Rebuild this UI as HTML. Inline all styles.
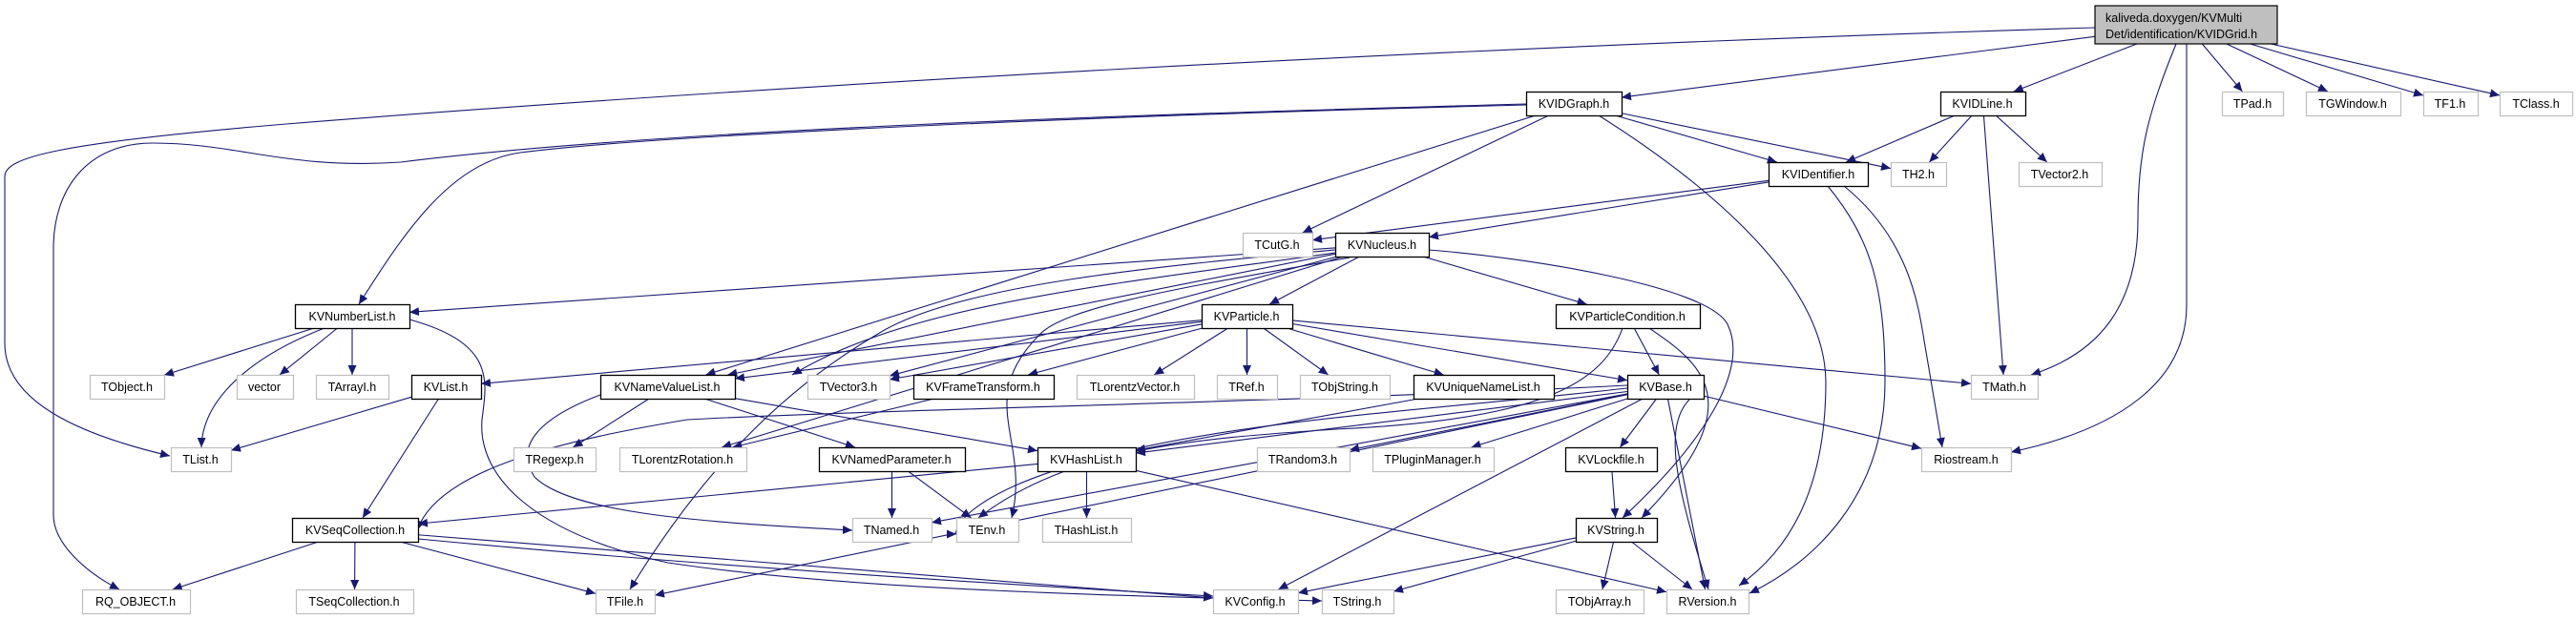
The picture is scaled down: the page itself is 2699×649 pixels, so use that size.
<!DOCTYPE html>
<html><head><meta charset="utf-8"><style>
html,body{margin:0;padding:0;background:#fff;}
svg{display:block;}
text{font-family:"Liberation Sans",sans-serif;font-size:12.5px;fill:#000;}
</style></head><body>
<svg id="g" width="2699" height="649" viewBox="0 0 2699 649" xmlns="http://www.w3.org/2000/svg">
<defs><marker id="a" markerUnits="userSpaceOnUse" markerWidth="11" markerHeight="9" refX="10" refY="4.5" orient="auto"><path d="M0,0 L10,4.5 L0,9 z" fill="#191970"/></marker></defs>
<g id="edges" fill="none" stroke="#191970" stroke-width="1.1"></g>
<g id="nodes">
<rect x="2195" y="6" width="191" height="40" fill="#bfbfbf" stroke="#000" stroke-width="1.2"/>
<text x="2206" y="23">kaliveda.doxygen/KVMulti</text><text x="2206" y="40">Det/identification/KVIDGrid.h</text>
</g>
</svg>
<script>
var N={
KVIDGraph:[1599,96,100,'KVIDGraph.h',1],KVIDLine:[2033,96,89,'KVIDLine.h',1],TPad:[2328,96,64,'TPad.h'],TGWindow:[2416,96,99,'TGWindow.h'],TF1:[2539,96,57,'TF1.h'],TClass:[2619,96,76,'TClass.h'],
KVIDentifier:[1853,170,104,'KVIDentifier.h',1],TH2:[1981,170,58,'TH2.h'],TVector2:[2115,170,87,'TVector2.h'],
TCutG:[1302,244,73,'TCutG.h'],KVNucleus:[1399,244,98,'KVNucleus.h',1],
KVNumberList:[309,319,120,'KVNumberList.h',1],KVParticle:[1259,319,95,'KVParticle.h',1],KVParticleCondition:[1630,319,151,'KVParticleCondition.h',1],
TObject:[94,393,78,'TObject.h'],vector:[248,393,59,'vector'],TArrayI:[331,393,76,'TArrayI.h'],KVList:[431,393,73,'KVList.h',1],KVNameValueList:[629,393,141,'KVNameValueList.h',1],TVector3:[846,393,86,'TVector3.h'],KVFrameTransform:[957,393,147,'KVFrameTransform.h',1],TLorentzVector:[1128,393,123,'TLorentzVector.h'],TRef:[1275,393,63,'TRef.h'],TObjString:[1362,393,94,'TObjString.h'],KVUniqueNameList:[1481,393,147,'KVUniqueNameList.h',1],KVBase:[1705,393,80,'KVBase.h',1],TMath:[2065,393,70,'TMath.h'],
TList:[179,469,63,'TList.h'],TRegexp:[538,469,86,'TRegexp.h'],TLorentzRotation:[649,469,133,'TLorentzRotation.h'],KVNamedParameter:[858,469,153,'KVNamedParameter.h',1],KVHashList:[1087,469,103,'KVHashList.h',1],TRandom3:[1317,469,97,'TRandom3.h'],TPluginManager:[1438,469,127,'TPluginManager.h'],KVLockfile:[1640,469,96,'KVLockfile.h',1],Riostream:[2013,469,94,'Riostream.h'],
KVSeqCollection:[306,543,132,'KVSeqCollection.h',1],TNamed:[893,543,83,'TNamed.h'],TEnv:[1002,543,65,'TEnv.h'],THashList:[1092,543,93,'THashList.h'],KVString:[1651,543,85,'KVString.h',1],
RQ_OBJECT:[86,618,113,'RQ_OBJECT.h'],TSeqCollection:[310,618,123,'TSeqCollection.h'],TFile:[624,618,62,'TFile.h'],KVConfig:[1271,618,89,'KVConfig.h'],TString:[1385,618,75,'TString.h'],TObjArray:[1630,618,92,'TObjArray.h'],RVersion:[1746,618,86,'RVersion.h']
};
N.main=[2195,6,191,'',1,40];
var E=[
['main','KVIDGraph'],['main','KVIDLine'],['main','TPad'],['main','TGWindow'],['main','TF1'],['main','TClass'],
['KVIDGraph','KVNameValueList'],['KVIDGraph','TCutG'],['KVIDGraph','KVIDentifier'],['KVIDGraph','TH2'],
['KVIDLine','KVIDentifier'],['KVIDLine','TH2'],['KVIDLine','TVector2'],['KVIDLine','TMath'],
['KVIDentifier','TCutG'],['KVIDentifier','KVNucleus'],
['KVNucleus','KVNumberList'],['KVNucleus','KVNameValueList'],['KVNucleus','TVector3'],['KVNucleus','TLorentzRotation'],['KVNucleus','KVParticle'],['KVNucleus','KVParticleCondition'],
['KVNumberList','TObject'],['KVNumberList','vector'],['KVNumberList','TArrayI'],
['KVParticle','KVList'],['KVParticle','KVNameValueList'],['KVParticle','TVector3'],['KVParticle','KVFrameTransform'],['KVParticle','TLorentzVector'],['KVParticle','TRef'],['KVParticle','TObjString'],['KVParticle','KVUniqueNameList'],['KVParticle','KVBase'],['KVParticle','TMath'],
['KVParticleCondition','KVBase'],
['KVList','TList'],['KVList','KVSeqCollection'],
['KVNameValueList','TRegexp'],['KVNameValueList','KVNamedParameter'],['KVNameValueList','KVHashList'],
['KVFrameTransform','TLorentzRotation'],['KVUniqueNameList','KVHashList'],
['KVBase','KVHashList'],['KVBase','TNamed'],['KVBase','TRandom3'],['KVBase','TPluginManager'],['KVBase','KVLockfile'],['KVBase','RVersion'],['KVBase','Riostream'],['KVBase','TFile'],['KVBase','KVConfig'],
['KVNamedParameter','TNamed'],['KVNamedParameter','TEnv'],
['KVHashList','KVSeqCollection'],['KVHashList','THashList'],['KVHashList','RVersion'],
['KVSeqCollection','RQ_OBJECT'],['KVSeqCollection','TSeqCollection'],['KVSeqCollection','TFile'],['KVSeqCollection','KVConfig'],
['KVLockfile','KVString'],['KVString','KVConfig'],['KVString','TString'],['KVString','TObjArray'],['KVString','RVersion']
];
var P=[
'M2195,29 C1500,50 800,90 300,130 C60,150 5,165 5,185 L5,360 C5,420 80,455 178,478',
'M1599,109 C1200,120 700,135 420,170 C300,178 250,150 160,150 C90,150 56,200 56,260 L56,540 C56,570 90,600 125,618',
'M1599,110 C1200,120 700,140 545,160 C470,170 420,250 376,319',
'M1675,121 C1800,200 1912,300 1913,400 C1913,520 1870,580 1822,614',
'M1915,195 C1960,250 1975,300 1975,400 C1975,520 1900,590 1833,622',
'M1932,195 C2000,250 2010,320 2016,357 L2035,469',
'M2280,46 C2250,120 2240,160 2240,230 C2240,320 2200,370 2128,393',
'M2291,46 L2291,320 C2291,400 2220,450 2107,474',
'M1497,262 C1600,270 1790,300 1810,340 C1830,380 1800,450 1700,543',
'M1728,344 C1780,380 1840,420 1720,543',
'M1700,344 C1680,400 1620,440 1400,450 C1250,460 1120,470 1025,543',
'M1414,270 C1250,300 1120,320 1090,350 C1020,420 1080,460 1060,543',
'M1399,262 C1200,280 1000,300 920,350 C800,420 720,520 660,618',
'M1399,265 C1150,300 950,320 830,393',
'M1705,404 C1400,420 900,430 720,440 C600,460 460,490 437,556',
'M340,344 C260,375 212,420 211,469',
'M429,335 C520,360 510,400 505,440 C500,500 560,560 700,590 C900,620 1200,625 1385,630',
'M629,414 C560,440 540,470 560,500 C600,540 750,548 893,556',
'M1705,407 C1500,430 1300,440 1150,480 C1000,520 1000,560 1002,560',
'M438,565 C700,590 1000,610 1271,625',
'M1770,419 C1740,450 1760,520 1790,618'
];
var S='http://www.w3.org/2000/svg',eg=document.getElementById('edges');
function box(k){var n=N[k];return {x:n[0],y:n[1],w:n[2],h:n[5]||25};}
function clip(b,cx,cy,dx,dy){var t=1e9;if(dx)t=Math.min(t,(b.w/2)/Math.abs(dx));if(dy)t=Math.min(t,(b.h/2)/Math.abs(dy));return [cx+dx*t,cy+dy*t];}
E.forEach(function(e){var a=box(e[0]),b=box(e[1]);var ax=a.x+a.w/2,ay=a.y+a.h/2,bx=b.x+b.w/2,by=b.y+b.h/2;var dx=bx-ax,dy=by-ay;
var p1=clip(a,ax,ay,dx,dy),p2=clip(b,bx,by,-dx,-dy);var l=document.createElementNS(S,'path');l.setAttribute('d','M'+p1[0]+','+p1[1]+' L'+p2[0]+','+p2[1]);l.setAttribute('marker-end','url(#a)');eg.appendChild(l);});
P.forEach(function(d){var l=document.createElementNS(S,'path');l.setAttribute('d',d);l.setAttribute('marker-end','url(#a)');eg.appendChild(l);});
var ng=document.getElementById('nodes');
for(var k in N){if(k==='main')continue;var n=N[k];var r=document.createElementNS(S,'rect');r.setAttribute('x',n[0]+.5);r.setAttribute('y',n[1]+.5);r.setAttribute('width',n[2]);r.setAttribute('height',25);r.setAttribute('fill','#fff');r.setAttribute('stroke',n[4]?'#000':'#bfbfbf');r.setAttribute('stroke-width',n[4]?1.3:1.2);ng.appendChild(r);}
</script>
<div style="position:absolute;left:0;top:0;width:2699px;height:649px;pointer-events:none">
<svg width="2699" height="649" xmlns="http://www.w3.org/2000/svg" style="position:absolute;left:0;top:0">
<g text-anchor="middle">
<text x="1649" y="113">KVIDGraph.h</text><text x="2077" y="113">KVIDLine.h</text><text x="2360" y="113">TPad.h</text><text x="2465" y="113">TGWindow.h</text><text x="2567" y="113">TF1.h</text><text x="2657" y="113">TClass.h</text>
<text x="1905" y="187">KVIDentifier.h</text><text x="2010" y="187">TH2.h</text><text x="2158" y="187">TVector2.h</text>
<text x="1338" y="261">TCutG.h</text><text x="1448" y="261">KVNucleus.h</text>
<text x="369" y="336">KVNumberList.h</text><text x="1306" y="336">KVParticle.h</text><text x="1705" y="336">KVParticleCondition.h</text>
<text x="133" y="410">TObject.h</text><text x="277" y="410">vector</text><text x="369" y="410">TArrayI.h</text><text x="467" y="410">KVList.h</text><text x="699" y="410">KVNameValueList.h</text><text x="889" y="410">TVector3.h</text><text x="1030" y="410">KVFrameTransform.h</text><text x="1189" y="410">TLorentzVector.h</text><text x="1306" y="410">TRef.h</text><text x="1409" y="410">TObjString.h</text><text x="1554" y="410">KVUniqueNameList.h</text><text x="1745" y="410">KVBase.h</text><text x="2100" y="410">TMath.h</text>
<text x="210" y="486">TList.h</text><text x="581" y="486">TRegexp.h</text><text x="715" y="486">TLorentzRotation.h</text><text x="934" y="486">KVNamedParameter.h</text><text x="1138" y="486">KVHashList.h</text><text x="1365" y="486">TRandom3.h</text><text x="1501" y="486">TPluginManager.h</text><text x="1688" y="486">KVLockfile.h</text><text x="2060" y="486">Riostream.h</text>
<text x="372" y="560">KVSeqCollection.h</text><text x="934" y="560">TNamed.h</text><text x="1034" y="560">TEnv.h</text><text x="1138" y="560">THashList.h</text><text x="1693" y="560">KVString.h</text>
<text x="142" y="635">RQ_OBJECT.h</text><text x="371" y="635">TSeqCollection.h</text><text x="655" y="635">TFile.h</text><text x="1315" y="635">KVConfig.h</text><text x="1422" y="635">TString.h</text><text x="1676" y="635">TObjArray.h</text><text x="1789" y="635">RVersion.h</text>
</g></svg></div>
</body></html>
